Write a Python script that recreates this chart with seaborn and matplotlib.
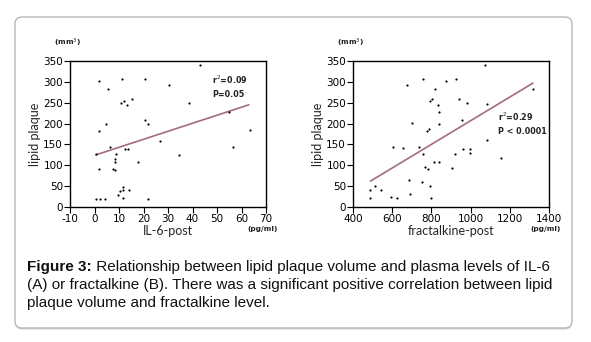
import numpy as np
import pandas as pd
import matplotlib
matplotlib.use('Agg')
import matplotlib.pyplot as plt
from matplotlib.patches import FancyBboxPatch
import seaborn as sns

# IL-6 panel (A)
il6_x = [0.6, 2.2, 4.2, 1.7, 5.6, 11.3, 20.5, 30.3, 42.9, 38.7, 11.0, 12.0, 13.1, 15.5,
         1.7, 4.5, 20.8, 21.9, 6.3, 12.6, 13.8, 26.7, 8.8, 0.8, 8.3, 8.3, 17.8, 34.6,
         1.8, 7.6, 8.3, 11.8, 10.6, 11.8, 14.1, 9.4, 11.8, 21.9, 55.1, 56.6, 63.4]
il6_y = [20, 20, 18, 302, 282, 308, 308, 292, 340, 250, 250, 255, 244, 258,
         181, 198, 209, 199, 143, 138, 138, 159, 126, 127, 116, 109, 107, 125,
         92, 92, 88, 48, 38, 40, 40, 28, 22, 19, 228, 143, 185]
il6_fit_x = [0.6, 63.0]
il6_fit_y = [125, 245]

# fractalkine panel (B)
frac_x = [489, 489, 511, 545, 595, 624, 602, 655, 673, 685, 689, 702, 737, 754, 759,
          757, 766, 781, 776, 790, 793, 805, 817, 814, 795, 797, 834, 841, 837, 841,
          873, 904, 918, 925, 940, 954, 959, 981, 998, 998, 1072, 1084, 1084, 1155, 1318]
frac_y = [41, 22, 50, 41, 23, 22, 145, 141, 292, 64, 31, 202, 144, 59, 307,
          128, 95, 92, 182, 188, 255, 260, 283, 109, 50, 22, 244, 228, 198, 109,
          302, 94, 127, 307, 258, 209, 139, 250, 138, 129, 341, 248, 160, 117, 284]
frac_fit_x = [489, 1318]
frac_fit_y = [62, 297]

sns.set_style('ticks')
plt.rcParams['font.family'] = ['DejaVu Sans']
plt.rcParams['axes.unicode_minus'] = False

W, H = 591, 342
fig = plt.figure(figsize=(W / 100, H / 100), dpi=100)

# rounded frame with a light shadow
shadow = FancyBboxPatch((0.15, 0.125), 5.57, 3.11, boxstyle='round,pad=0,rounding_size=0.07',
                        transform=fig.dpi_scale_trans, facecolor='#d4d4d4', edgecolor='none', zorder=-2)
frame = FancyBboxPatch((0.15, 0.14), 5.57, 3.11, boxstyle='round,pad=0,rounding_size=0.07',
                       transform=fig.dpi_scale_trans, facecolor='white', edgecolor='#b8b8b8',
                       linewidth=1.0, zorder=-1)
fig.patches.extend([shadow, frame])

line_color = '#a36b7e'
small = dict(family='DejaVu Sans', fontsize=5.3, fontweight='bold', color='#222222')


def panel(left_px, xs, ys, fx, fy, xlabel, xlim, xticks, ann, ann_xy):
    ax = fig.add_axes([left_px / W, 1 - 207 / H, 196 / W, 146 / H])
    ax.set_facecolor('none')
    df = pd.DataFrame({'x': xs, 'y': ys})
    sns.scatterplot(data=df, x='x', y='y', ax=ax, color='black', s=2.5, linewidth=0, zorder=3)
    sns.lineplot(x=fx, y=fy, ax=ax, color=line_color, linewidth=1.2, zorder=2)
    ax.set_xlim(*xlim)
    ax.set_ylim(0, 350)
    ax.set_xticks(xticks)
    ax.set_yticks(range(0, 351, 50))
    for s in ax.spines.values():
        s.set_visible(True)
        s.set_color('black')
        s.set_linewidth(1.0)
    ax.tick_params(direction='out', length=4, width=0.8, labelsize=7.5, pad=1, colors='black')
    ax.set_xlabel(xlabel, family='Lato', fontsize=9, labelpad=1)
    ax.set_ylabel('lipid plaque', family='Lato', fontsize=9, labelpad=2)
    ax.text(ann_xy[0], ann_xy[1], ann, va='center', ha='left', linespacing=1.6,
            **{**small, 'fontsize': 5.8})
    ax.text(-0.015, 1.123, '(mm$^3$)', transform=ax.transAxes, ha='center', va='center', **small)
    ax.text(0.98, -0.15, '(pg/ml)', transform=ax.transAxes, ha='center', va='center', **small)
    return ax


panel(70, il6_x, il6_y, il6_fit_x, il6_fit_y, 'IL-6-post', (-10, 70), range(-10, 71, 10),
      'r$^2$=0.09\nP=0.05', (48, 290))
panel(353, frac_x, frac_y, frac_fit_x, frac_fit_y, 'fractalkine-post', (400, 1400),
      range(400, 1401, 200), 'r$^2$=0.29\nP < 0.0001', (1140, 200))

# caption
cap = dict(family='Liberation Sans', fontsize=11, color='#111111')
t1 = fig.text(27 / W, 1 - 274 / H, 'Figure 3:', fontweight='bold', va='bottom', **cap)
fig.axes[0].annotate(' Relationship between lipid plaque volume and plasma levels of IL-6',
                     xy=(1, 0), xycoords=t1, va='bottom', ha='left', annotation_clip=False, **cap)
fig.text(27 / W, 1 - 292 / H,
         '(A) or fractalkine (B). There was a significant positive correlation between lipid',
         va='bottom', **cap)
fig.text(27 / W, 1 - 310 / H, 'plaque volume and fractalkine level.', va='bottom', **cap)

fig.savefig('out.png', dpi=100)
